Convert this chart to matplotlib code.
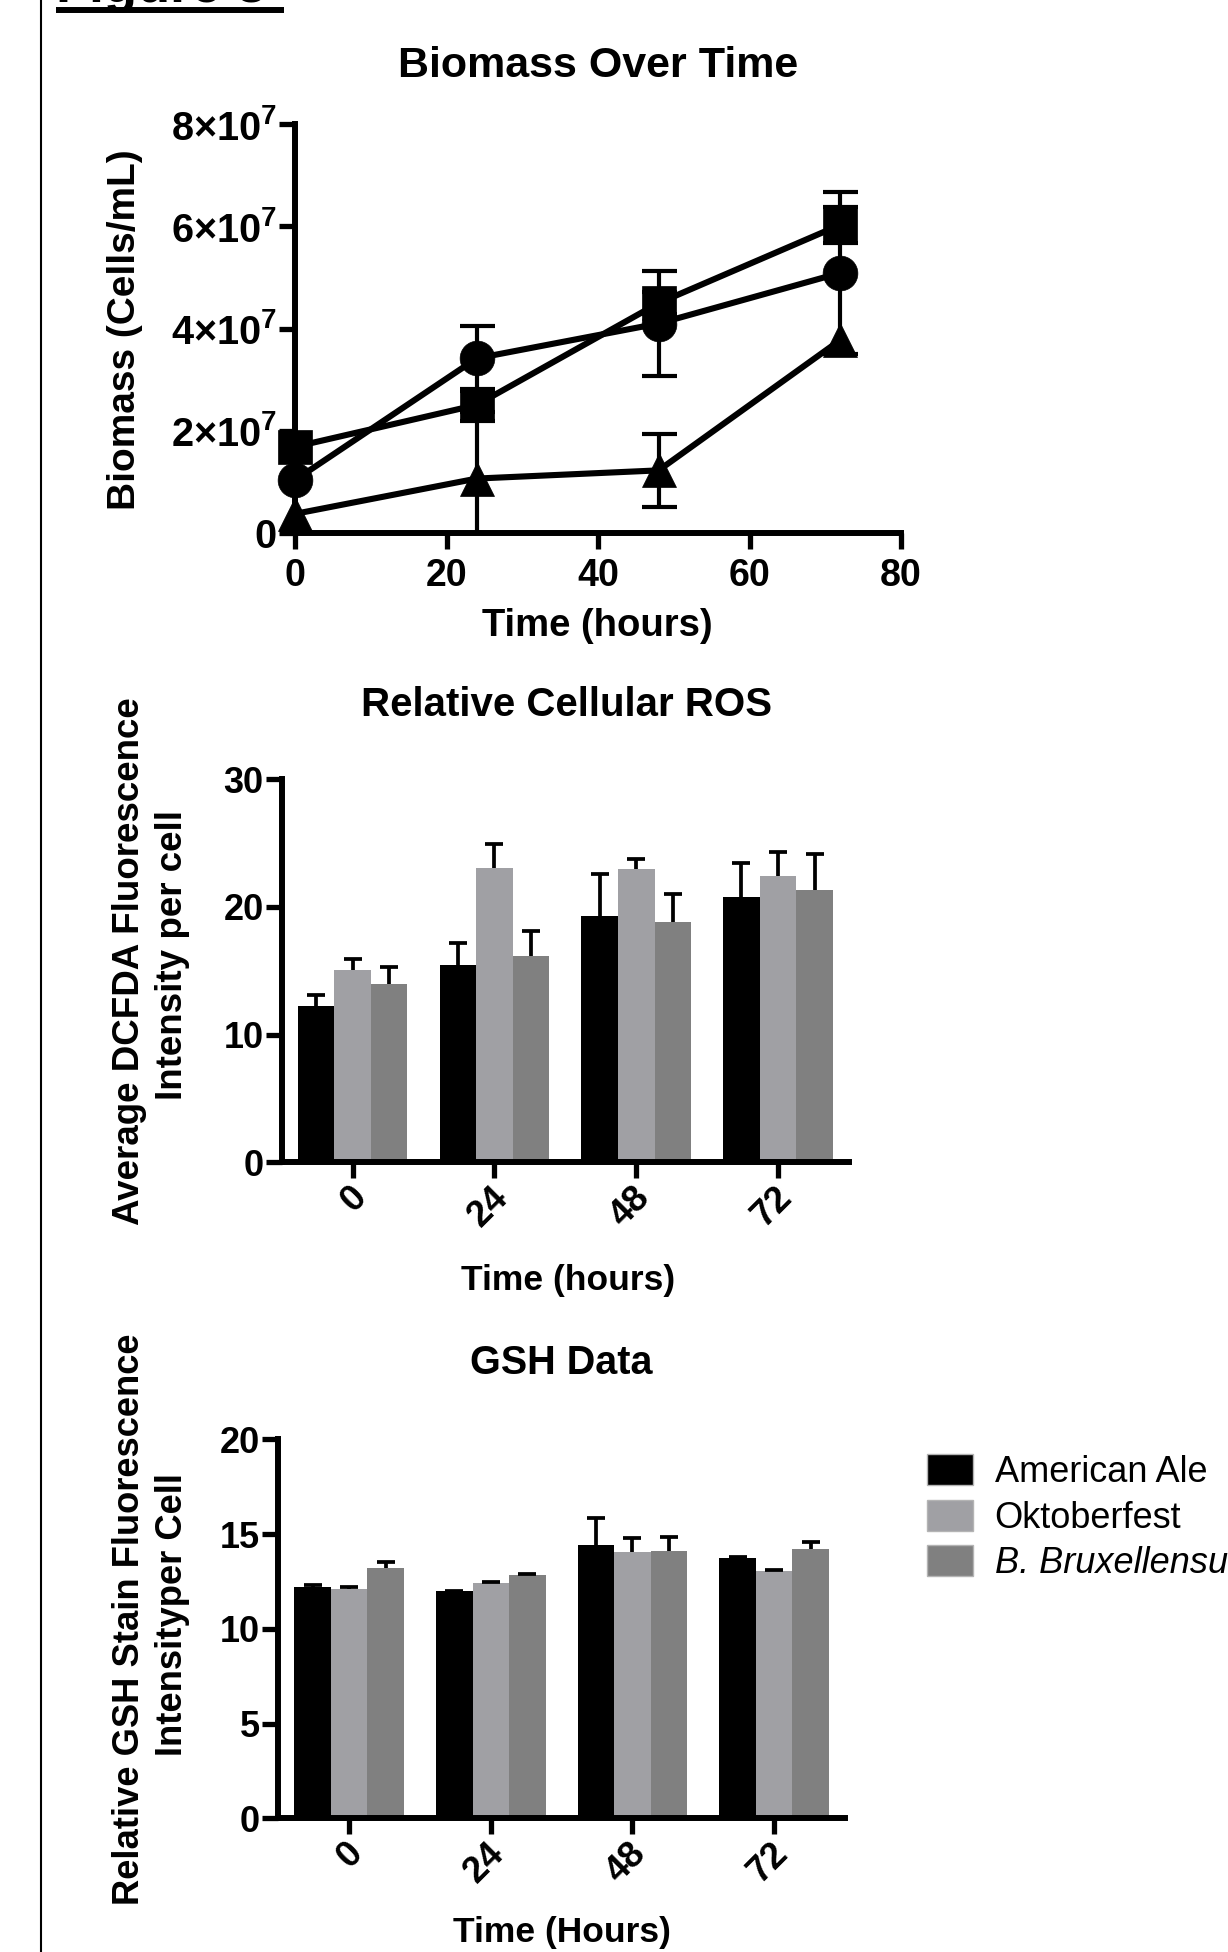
import matplotlib
matplotlib.use('Agg')
import matplotlib.pyplot as plt
from matplotlib.lines import Line2D
from matplotlib.patches import Patch
from matplotlib.transforms import ScaledTranslation

plt.rcParams['font.family'] = ['Liberation Sans', 'DejaVu Sans']
plt.rcParams['mathtext.default'] = 'regular'

W, H, DPI = 1228, 1952, 100

# ---------------- data ----------------
hours = [0, 24, 48, 72]
bm_circle = [1.04e7, 3.42e7, 4.10e7, 5.09e7]
bm_circle_err = [0.0, 0.63e7, 1.02e7, 1.59e7]
bm_square = [1.69e7, 2.51e7, 4.50e7, 6.03e7]
bm_square_err = [0.0, 0.32e7, 0.22e7, 0.35e7]
bm_triangle = [0.38e7, 1.07e7, 1.23e7, 3.78e7]
bm_triangle_err = [0.0, 1.30e7, 0.72e7, 0.0]
bm_xticks = [0, 20, 40, 60, 80]
bm_yticks = [0, 2e7, 4e7, 6e7, 8e7]
bm_yticklabels = ['0', '2×10$^{7}$', '4×10$^{7}$', '6×10$^{7}$', '8×10$^{7}$']

time_labels = ['0', '24', '48', '72']
strains = ['American Ale', 'Oktoberfest', 'B. Bruxellensus']
strain_colors = ['#000000', '#A0A0A4', '#808080']

ros_american = [12.24, 15.43, 19.31, 20.78]
ros_american_err = [0.84, 1.77, 3.24, 2.68]
ros_oktober = [15.06, 23.02, 22.94, 22.42]
ros_oktober_err = [0.84, 1.91, 0.81, 1.90]
ros_brux = [13.96, 16.15, 18.84, 21.32]
ros_brux_err = [1.31, 1.99, 2.17, 2.80]
ros_yticks = [0, 10, 20, 30]

gsh_american = [12.19, 11.99, 14.42, 13.72]
gsh_american_err = [0.12, 0.03, 1.41, 0.08]
gsh_oktober = [12.08, 12.43, 14.07, 13.07]
gsh_oktober_err = [0.14, 0.05, 0.71, 0.05]
gsh_brux = [13.19, 12.82, 14.11, 14.20]
gsh_brux_err = [0.32, 0.09, 0.75, 0.37]
gsh_yticks = [0, 5, 10, 15, 20]

# ---------------- helpers ----------------
def fx(x):
    return x / W


def fy(y):
    return 1 - y / H


fig = plt.figure(figsize=(W / DPI, H / DPI), dpi=DPI)
fig.patch.set_facecolor('white')

SPINE_LW = 4.3
TICK_W = 3.8
TICK_LEN = 11.5


def style_axes(ax, ticksize):
    for s in ['top', 'right']:
        ax.spines[s].set_visible(False)
    for s in ['left', 'bottom']:
        ax.spines[s].set_linewidth(SPINE_LW)
        ax.spines[s].set_capstyle('projecting')
    ax.tick_params(direction='out', length=TICK_LEN, width=TICK_W, labelsize=ticksize,
                   colors='black')
    ax.tick_params(axis='y', pad=1.5)
    for lab in ax.get_xticklabels() + ax.get_yticklabels():
        lab.set_fontweight('bold')


def add_axes_px(left, right, top, bottom):
    return fig.add_axes([fx(left), fy(bottom), (right - left) / W, (bottom - top) / H])


# ---------------- panel 1 ----------------
ax1 = add_axes_px(295, 901, 124, 533.3)
ax1.set_xlim(0, 80)
ax1.set_ylim(0, 8e7)
series = [(bm_circle, bm_circle_err, 'o'), (bm_square, bm_square_err, 's'),
          (bm_triangle, bm_triangle_err, '^')]
for vals, errs, mk in series:
    xs = [h for h, e in zip(hours, errs) if e > 0]
    ys = [v for v, e in zip(vals, errs) if e > 0]
    es = [e for e in errs if e > 0]
    ax1.errorbar(xs, ys, yerr=es, fmt='none', ecolor='black', elinewidth=3.0,
                 capsize=12.6, capthick=3.0, zorder=2)
    ax1.plot(hours, vals, color='black', lw=4.4, marker=mk,
             markersize=25 if mk != '^' else 25, markeredgewidth=0.5,
             clip_on=False, zorder=3)
ax1.set_xticks(bm_xticks)
ax1.set_xticklabels([str(t) for t in bm_xticks])
ax1.set_yticks(bm_yticks)
ax1.set_yticklabels(bm_yticklabels)
style_axes(ax1, 27)
ax1.tick_params(axis='x', pad=6.5)
ax1.tick_params(axis='y', labelsize=28.5)

fig.text(fx(598), fy(77), 'Biomass Over Time', ha='center', va='baseline',
         fontsize=31, fontweight='bold')
fig.text(fx(597.5), fy(636), 'Time (hours)', ha='center', va='baseline',
         fontsize=27.5, fontweight='bold')
fig.text(fx(125), fy(330), 'Biomass (Cells/mL)', ha='center', va='center',
         rotation=90, fontsize=28, fontweight='bold')

# ---------------- bar panels ----------------
BAR_W = 0.258
offsets = [-BAR_W, 0.0, BAR_W]


def bar_panel(ax, means, errs, yticks, ylim):
    for k, (m, e) in enumerate(zip(means, errs)):
        xs = [i + offsets[k] for i in range(len(m))]
        ax.bar(xs, m, width=BAR_W, color=strain_colors[k], edgecolor='none',
               zorder=2, label=strains[k])
        eb = ax.errorbar(xs, m, yerr=[[0] * len(e), e], fmt='none', ecolor='black',
                         elinewidth=2.7, capsize=6.5, capthick=2.7, zorder=3)
        eb[1][0].set_visible(False)
    ax.set_xlim(-0.5, len(means[0]) - 0.5)
    ax.set_ylim(*ylim)
    ax.set_yticks(yticks)
    ax.set_yticklabels([str(t) for t in yticks])
    ax.set_xticks(range(len(time_labels)))
    style_axes(ax, 26)
    ax.tick_params(axis='x', pad=1)
    ax.set_xticklabels(time_labels, rotation=45, ha='right', va='top',
                       rotation_mode='anchor', fontsize=26.5, fontweight='bold')
    shift = ScaledTranslation(-4 / DPI, 0, fig.dpi_scale_trans)
    for lab in ax.get_xticklabels():
        lab.set_transform(lab.get_transform() + shift)


ax2 = add_axes_px(281.7, 849, 779.3, 1162.3)
bar_panel(ax2, [ros_american, ros_oktober, ros_brux],
          [ros_american_err, ros_oktober_err, ros_brux_err], ros_yticks, (0, 30))
fig.text(fx(567), fy(716), 'Relative Cellular ROS', ha='center', va='baseline',
         fontsize=29, fontweight='bold')
fig.text(fx(568), fy(1290), 'Time (hours)', ha='center', va='baseline',
         fontsize=25.5, fontweight='bold')
fig.text(fx(130), fy(961), 'Average DCFDA Fluorescence', ha='center', va='center',
         rotation=90, fontsize=26.5, fontweight='bold')
fig.text(fx(173), fy(955), 'Intensity per cell', ha='center', va='center',
         rotation=90, fontsize=26.5, fontweight='bold')

ax3 = add_axes_px(278.3, 845, 1439.3, 1818.3)
bar_panel(ax3, [gsh_american, gsh_oktober, gsh_brux],
          [gsh_american_err, gsh_oktober_err, gsh_brux_err], gsh_yticks, (0, 20))
fig.text(fx(561), fy(1374), 'GSH Data', ha='center', va='baseline',
         fontsize=28.5, fontweight='bold')
fig.text(fx(562), fy(1942), 'Time (Hours)', ha='center', va='baseline',
         fontsize=25.5, fontweight='bold')
fig.text(fx(130), fy(1619), 'Relative GSH Stain Fluorescence', ha='center', va='center',
         rotation=90, fontsize=26.2, fontweight='bold')
fig.text(fx(173), fy(1614), 'Intensityper Cell', ha='center', va='center',
         rotation=90, fontsize=26.2, fontweight='bold')

# ---------------- legend ----------------
handles = [Patch(facecolor=c, edgecolor='#B4B4B4', linewidth=1.0) for c in strain_colors]
leg = fig.legend(handles, strains, loc='upper left',
                 bbox_to_anchor=(fx(927), fy(1454)), frameon=False,
                 fontsize=26, handlelength=1.27, handleheight=0.94,
                 handletextpad=0.6, labelspacing=0.27, borderpad=0, borderaxespad=0)
leg.get_texts()[2].set_style('italic')

# ---------------- page decorations ----------------
fig.add_artist(Line2D([fx(40.7), fx(40.7)], [0, 1], transform=fig.transFigure,
                      color='black', lw=1.5))
fig.add_artist(Line2D([fx(56), fx(284)], [fy(10.3), fy(10.3)], transform=fig.transFigure,
                      color='black', lw=4.3, solid_capstyle='butt'))
fig.text(fx(56), fy(2), 'Figure 3', ha='left', va='baseline', fontsize=39,
         fontweight='bold')

fig.savefig('out.png', dpi=DPI, facecolor='white')
